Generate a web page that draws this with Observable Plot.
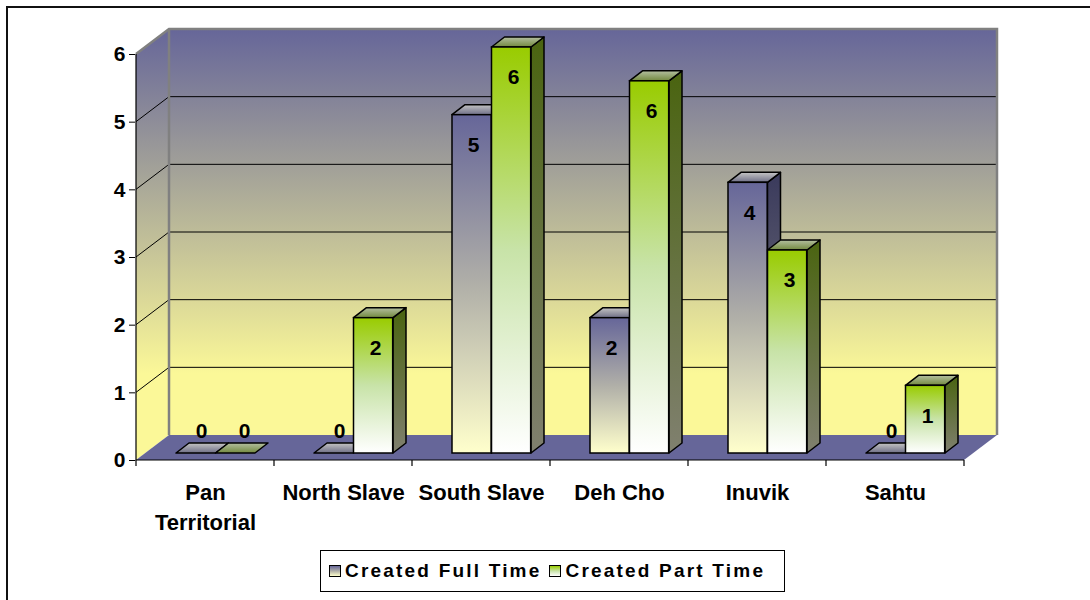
<!DOCTYPE html>
<html>
<head>
<meta charset="utf-8">
<script src="https://cdn.jsdelivr.net/npm/d3@7"></script>
<script src="https://cdn.jsdelivr.net/npm/@observablehq/plot@0.6"></script>
<style>
  body { margin: 0; background: #fff; overflow: hidden; }
  #wrap { position: relative; width: 1090px; height: 600px; overflow: hidden; font-family: Arial, "Liberation Sans", sans-serif; background: #fff; }
  #wrap svg { position: absolute; left: 0; top: 0; }
  #frame { position: absolute; left: 6px; top: 6px; width: 1200px; height: 1000px; border: 2px solid #111; box-sizing: border-box; pointer-events: none; }
  #legend { position: absolute; left: 320px; top: 550px; width: 465px; height: 42px; border: 1px solid #000; box-sizing: border-box; background: #fff;
            display: flex; align-items: center; font-weight: bold; font-size: 19px; letter-spacing: 2.2px; color: #000; white-space: nowrap; }
  .sw { width: 10px; height: 10px; border: 1px solid #000; margin: 0 4px 0 8px; flex: none; }
  .sw.ft { background: linear-gradient(#666699, #b0afa8 50%, #ffffcc); }
  .sw.pt { background: linear-gradient(#99cc00, #c8e3a8 50%, #ffffff); }
</style>
</head>
<body>
<div id="wrap"></div>
<script>
// ---- data ----
const categories = ["Pan Territorial", "North Slave", "South Slave", "Deh Cho", "Inuvik", "Sahtu"];
const categoryLabels = ["Pan\nTerritorial", "North Slave", "South Slave", "Deh Cho", "Inuvik", "Sahtu"];
const series = ["Created Full Time", "Created Part Time"];
const fullTime = [0, 0, 5, 2, 4, 0];
const partTime = [0, 2, 6, 5.5, 3, 1];
const yTicks = [0, 1, 2, 3, 4, 5, 6];

const rows = [];
categories.forEach((c, i) => {
  rows.push({category: c, series: series[0], value: fullTime[i]});
  rows.push({category: c, series: series[1], value: partTime[i]});
});
const ftRows = rows.filter(d => d.series === series[0]);
const ptRows = rows.filter(d => d.series === series[1]);
const fmt = d3.format(".0f");

// ---- layout / style constants ----
const W = 1090, H = 600;
const M = {left: 135, right: 125, top: 54, bottom: 140};
const BW = (W - M.left - M.right) / categories.length;
const BAR = {[series[0]]: 40, [series[1]]: 79.5};
const BARW = 39.5;
const DX = 13, DY = -10;      // bar depth
const SHIFT = -7;             // bar front plane offset
const WX = 33, WY = -25;      // wall depth
const FT_FILL = {front: "url(#ftFront)", side: "url(#ftSide)", top: "url(#ftTop)"};
const PT_FILL = {front: "url(#ptFront)", side: "url(#ptSide)", top: "url(#ptTop)"};
const fillsFor = s => s === series[0] ? FT_FILL : PT_FILL;

function defsMark() {
  const g = d3.create("svg:g");
  const defs = g.append("defs");
  const grad = (id, stops) => {
    const lg = defs.append("linearGradient").attr("id", id)
      .attr("x1", 0).attr("y1", 0).attr("x2", 0).attr("y2", 1);
    stops.forEach(([o, c]) => lg.append("stop").attr("offset", o).attr("stop-color", c));
  };
  grad("ftFront", [[0, "#666699"], [0.5, "#b0afa8"], [1, "#ffffcc"]]);
  grad("ptFront", [[0, "#99cc00"], [0.5, "#c8e3a8"], [1, "#ffffff"]]);
  grad("ftSide", [[0, "#3a3a5c"], [1, "#858585"]]);
  grad("ptSide", [[0, "#4a6410"], [1, "#80806f"]]);
  grad("ftTop", [[0, "#c4c4c4"], [1, "#6e6e86"]]);
  grad("ptTop", [[0, "#b4bfa0"], [1, "#72893e"]]);
  return g.node();
}

function backgroundMark(index, scales) {
  const x = scales.x, y = scales.y;
  const bw = x(categories[1]) - x(categories[0]);
  const xl = x(categories[0]), xr = x(categories[categories.length - 1]) + bw;
  const y0 = y(0), yt = y(d3.max(yTicks));
  const g = d3.create("svg:g");
  const lg = g.append("defs").append("linearGradient").attr("id", "wallGrad")
    .attr("gradientUnits", "userSpaceOnUse").attr("x1", 0).attr("x2", 0)
    .attr("y1", yt + WY).attr("y2", y0 + WY);
  lg.append("stop").attr("offset", 0).attr("stop-color", "#666699");
  lg.append("stop").attr("offset", 0.85).attr("stop-color", "#fbf898");
  lg.append("stop").attr("offset", 1).attr("stop-color", "#fbf898");
  g.append("rect").attr("x", xl + WX).attr("y", yt + WY).attr("width", xr - xl).attr("height", y0 - yt)
    .attr("fill", "url(#wallGrad)");
  g.append("path").attr("d", `M${xl},${y0}L${xl},${yt}L${xl + WX},${yt + WY}L${xl + WX},${y0 + WY}Z`)
    .attr("fill", "url(#wallGrad)");
  yTicks.filter(v => v > 0 && v < d3.max(yTicks)).forEach(v => {
    g.append("path").attr("d", `M${xl},${y(v)}L${xl + WX},${y(v) + WY}L${xr + WX},${y(v) + WY}`)
      .attr("fill", "none").attr("stroke", "#000").attr("stroke-width", 1);
  });
  g.append("path").attr("d", `M${xl},${yt}L${xl + WX},${yt + WY}L${xr + WX},${yt + WY}L${xr + WX},${y0 + WY}`)
    .attr("fill", "none").attr("stroke", "#808080").attr("stroke-width", 2.5);
  g.append("path").attr("d", `M${xl + WX},${yt + WY}L${xl + WX},${y0 + WY}`)
    .attr("fill", "none").attr("stroke", "#808080").attr("stroke-width", 2.5);
  g.append("path").attr("d", `M${xl},${y0}L${xr},${y0}L${xr + WX},${y0 + WY}L${xl + WX},${y0 + WY}Z`)
    .attr("fill", "#666699");
  g.append("path").attr("d", `M${xl},${yt}L${xl},${y0}L${xr},${y0}`)
    .attr("fill", "none").attr("stroke", "#000").attr("stroke-width", 1.2);
  d3.range(categories.length + 1).forEach(i => {
    const xb = xl + i * bw;
    g.append("line").attr("x1", xb).attr("x2", xb).attr("y1", y0).attr("y2", y0 + 6)
      .attr("stroke", "#000").attr("stroke-width", 1.2);
  });
  return g.node();
}

function facesMark(kind) {
  return (index, scales) => {
    const x = scales.x, y = scales.y;
    const g = d3.create("svg:g");
    rows.forEach(d => {
      const L = x(d.category) + BAR[d.series], R = L + BARW;
      const yt = y(d.value) + SHIFT, yb = y(0) + SHIFT;
      const f = fillsFor(d.series);
      let p;
      if (kind === "side") {
        if (d.value <= 0) return;
        p = `M${R},${yt}L${R + DX},${yt + DY}L${R + DX},${yb + DY}L${R},${yb}Z`;
      } else {
        p = `M${L},${yt}L${R},${yt}L${R + DX},${yt + DY}L${L + DX},${yt + DY}Z`;
      }
      g.append("path").attr("d", p).attr("fill", f[kind])
        .attr("stroke", "#000").attr("stroke-width", 1.5).attr("stroke-linejoin", "round");
    });
    return g.node();
  };
}

const textOpts = {x: "category", y: "value", text: d => fmt(d.value), fontSize: 21, fontWeight: "bold", fill: "#000"};

const chart = Plot.plot({
  width: W,
  height: H,
  marginLeft: M.left,
  marginRight: M.right,
  marginTop: M.top,
  marginBottom: M.bottom,
  style: {fontFamily: "Arial, 'Liberation Sans', sans-serif", color: "#000", background: "transparent", overflow: "visible"},
  x: {type: "band", domain: categories, padding: 0},
  y: {domain: [0, d3.max(yTicks)], nice: false},
  marks: [
    defsMark,
    backgroundMark,
    Plot.axisY(yTicks, {tickSize: 6, tickPadding: 4, fontSize: 21, fontWeight: "bold", label: null, tickFormat: d3.format("d")}),
    Plot.axisX({tickSize: 0, tickPadding: 18, fontSize: 22, fontWeight: "bold", lineHeight: 1.38, label: null,
      tickFormat: d => categoryLabels[categories.indexOf(d)]}),
    facesMark("side"),
    facesMark("top"),
    Plot.rectY(ftRows, {x: "category", y: "value", insetLeft: BAR[series[0]], insetRight: BW - BAR[series[0]] - BARW,
      dy: SHIFT, fill: FT_FILL.front, stroke: "#000", strokeWidth: 1.5}),
    Plot.rectY(ptRows, {x: "category", y: "value", insetLeft: BAR[series[1]], insetRight: BW - BAR[series[1]] - BARW,
      dy: SHIFT, fill: PT_FILL.front, stroke: "#000", strokeWidth: 1.5}),
    Plot.text(ftRows.filter(d => d.value > 0), {...textOpts, dx: -8, dy: 23}),
    Plot.text(ptRows.filter(d => d.value > 0), {...textOpts, dx: 32, dy: 23}),
    Plot.text(ftRows.filter(d => d.value === 0), {...textOpts, dx: -4, dy: -29}),
    Plot.text(ptRows.filter(d => d.value === 0), {...textOpts, dx: 39, dy: -29})
  ]
});

const wrap = document.getElementById("wrap");
wrap.appendChild(chart);
const frame = document.createElement("div");
frame.id = "frame";
wrap.appendChild(frame);
const legend = document.createElement("div");
legend.id = "legend";
series.forEach((s, i) => {
  const sw = document.createElement("span");
  sw.className = "sw " + (i === 0 ? "ft" : "pt");
  legend.appendChild(sw);
  const t = document.createElement("span");
  t.textContent = s;
  legend.appendChild(t);
});
wrap.appendChild(legend);
</script>
</body>
</html>
